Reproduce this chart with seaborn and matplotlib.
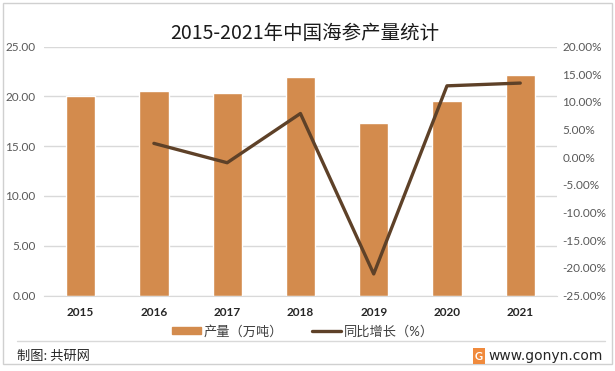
import numpy as np
import pandas as pd
import matplotlib
matplotlib.use('Agg')
import matplotlib.pyplot as plt
import seaborn as sns
from matplotlib.patches import Rectangle
from matplotlib.lines import Line2D

years = ['2015', '2016', '2017', '2018', '2019', '2020', '2021']
output = [20.03, 20.53, 20.33, 21.95, 17.32, 19.55, 22.16]   # 万吨
growth = [np.nan, 2.5, -1.0, 7.9, -21.1, 12.9, 13.4]          # %

sns.set_style('white')
plt.rcParams['font.family'] = ['Lato', 'Noto Sans CJK SC', 'DejaVu Sans']

bar_color = '#D38B4D'
line_color = '#5E4128'

df = pd.DataFrame({'year': years, 'output': output, 'growth': growth})

fig = plt.figure(figsize=(6.15, 3.71), dpi=100)
ax = fig.add_axes([0.0715, 0.2035, 0.834, 0.671])

sns.barplot(data=df, x='year', y='output', color=bar_color, width=0.4,
            saturation=1, ax=ax)
ax.set_ylim(0, 25)
ax.set_xlim(-0.5, 6.5)
ax.set_yticks([0, 5, 10, 15, 20, 25])
ax.set_yticklabels([f'{v:.2f}' for v in [0, 5, 10, 15, 20, 25]])
ax.yaxis.grid(True, color='#D9D9D9', linewidth=1)
ax.set_axisbelow(True)
ax.set_xlabel('')
ax.set_ylabel('')
for s in ax.spines.values():
    s.set_visible(False)
ax.spines['bottom'].set_visible(True)
ax.spines['bottom'].set_color('#D9D9D9')
ax.tick_params(axis='y', colors='#595959', labelsize=8.5, length=0, pad=6)
ax.tick_params(axis='x', colors='#262626', labelsize=8.5, length=0, pad=8)
for lab in ax.get_xticklabels():
    lab.set_fontweight('bold')

ax2 = ax.twinx()
sns.lineplot(x=np.arange(len(years)), y=df['growth'], color=line_color,
             linewidth=2.4, ax=ax2)
ax2.set_ylim(-25, 20)
ax2.set_yticks(np.arange(-25, 21, 5))
ax2.set_yticklabels([f'{v:.2f}%' for v in np.arange(-25, 21, 5)])
ax2.set_ylabel('')
for s in ax2.spines.values():
    s.set_visible(False)
ax2.tick_params(axis='y', colors='#595959', labelsize=8.5, length=0, pad=4)

fig.text(0.495, 0.91, '2015-2021年中国海参产量统计', ha='center', va='center',
         fontsize=14, color='#1a1a1a', family=['Noto Sans CJK SC'])

handles = [Rectangle((0, 0), 1, 1, color=bar_color),
           Line2D([0], [0], color=line_color, linewidth=2.4)]
fig.legend(handles, ['产量（万吨）', '同比增长（%）'], loc='center',
           bbox_to_anchor=(0.492, 0.108), ncol=2, frameon=False,
           fontsize=9.5, handlelength=2.2, handleheight=0.5, columnspacing=2.2,
           handletextpad=0.2, labelcolor='#404040')

# footer
fig.add_artist(Line2D([17 / 615, 605 / 615], [1 - 341 / 371] * 2,
                      color='#D9D9D9', linewidth=1, transform=fig.transFigure))
fig.add_artist(Rectangle((3 / 615, 1 - 364 / 371), 609 / 615, 361 / 371,
                         fill=False, edgecolor='#D0D0D0', linewidth=1,
                         transform=fig.transFigure))
fig.text(17 / 615, 1 - 356 / 371, '制图: 共研网', ha='left', va='center',
         fontsize=9.5, color='#262626', family=['Noto Sans CJK SC'])
fig.text(603 / 615, 1 - 356 / 371, 'www.gonyn.com', ha='right', va='center',
         fontsize=10, color='#262626', family=['DejaVu Sans'])
fig.text(479 / 615, 1 - 356 / 371, 'G', ha='center', va='center',
         fontsize=8, color='white', fontweight='bold',
         bbox=dict(boxstyle='square,pad=0.2', fc='#F08A3C', ec='none'))

fig.savefig('out.png', dpi=100)
